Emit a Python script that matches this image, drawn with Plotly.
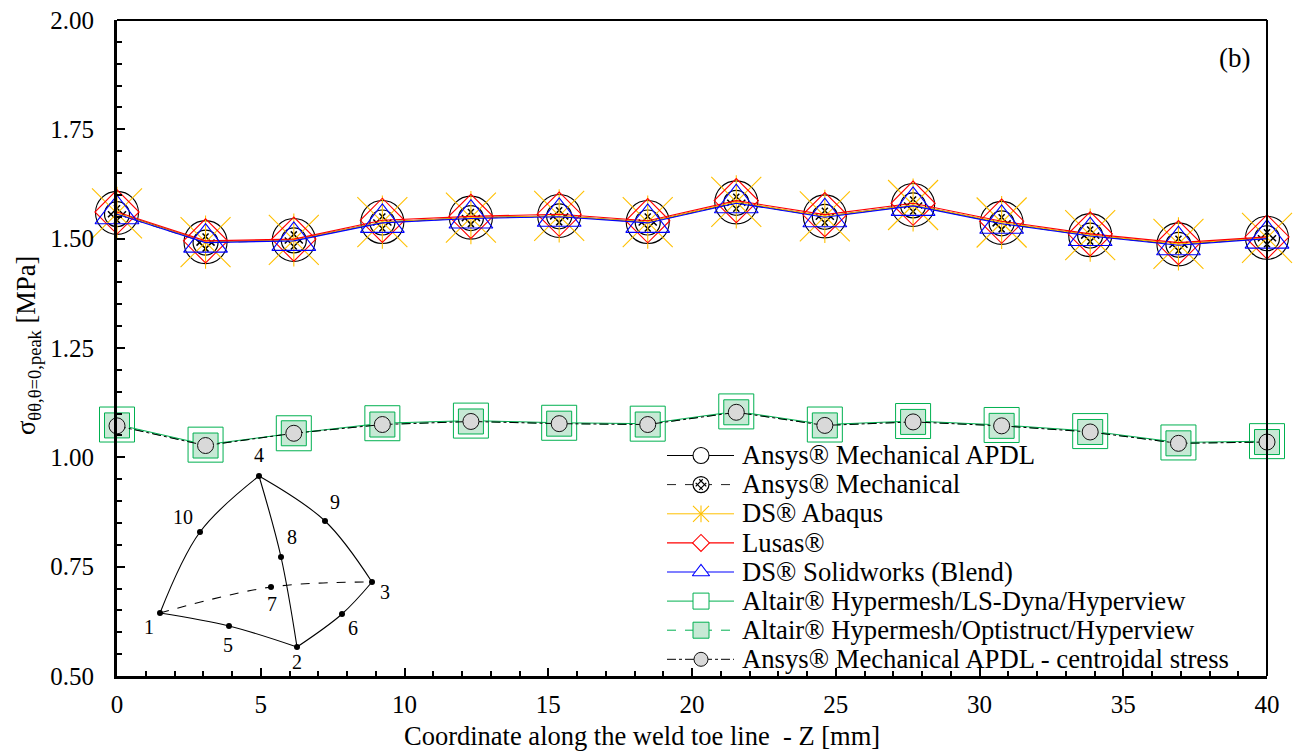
import plotly.graph_objects as go

# ---- Data ----
z = [0, 3.08, 6.15, 9.23, 12.31, 15.38, 18.46, 21.54, 24.62, 27.69, 30.77, 33.85, 36.92, 40]

apdl = [1.559, 1.492, 1.497, 1.538, 1.548, 1.552, 1.538, 1.583, 1.551, 1.577, 1.536, 1.508, 1.487, 1.502]
mechanical = [1.556, 1.491, 1.496, 1.537, 1.547, 1.551, 1.537, 1.582, 1.550, 1.576, 1.535, 1.507, 1.486, 1.501]
abaqus = [1.558, 1.492, 1.497, 1.538, 1.548, 1.552, 1.538, 1.584, 1.551, 1.577, 1.537, 1.508, 1.488, 1.502]
lusas = [1.561, 1.495, 1.499, 1.542, 1.551, 1.556, 1.541, 1.587, 1.555, 1.581, 1.540, 1.511, 1.491, 1.504]
solidworks = [1.556, 1.491, 1.495, 1.536, 1.546, 1.550, 1.536, 1.581, 1.549, 1.575, 1.534, 1.506, 1.485, 1.500]
lsdyna = [1.075, 1.029, 1.055, 1.078, 1.084, 1.079, 1.077, 1.105, 1.075, 1.083, 1.074, 1.060, 1.034, 1.037]
optistruct = [1.073, 1.027, 1.055, 1.075, 1.082, 1.077, 1.075, 1.103, 1.073, 1.081, 1.072, 1.058, 1.032, 1.035]
centroidal = [1.072, 1.027, 1.055, 1.075, 1.082, 1.077, 1.075, 1.103, 1.073, 1.081, 1.072, 1.058, 1.032, 1.035]

names = ["Ansys® Mechanical APDL", "Ansys® Mechanical", "DS® Abaqus", "Lusas®", "DS® Solidworks (Blend)",
         "Altair® Hypermesh/LS-Dyna/Hyperview", "Altair® Hypermesh/Optistruct/Hyperview",
         "Ansys® Mechanical APDL - centroidal stress"]

x_ticks = [0, 5, 10, 15, 20, 25, 30, 35, 40]
y_ticks = [0.5, 0.75, 1.0, 1.25, 1.5, 1.75, 2.0]
y_labels = ["0.50", "0.75", "1.00", "1.25", "1.50", "1.75", "2.00"]

# Inset tetrahedron sketch (in sketch units)
edge_1_5_2 = ([160, 229, 297], [613, 626, 647])
edge_2_6_3 = ([297, 342, 372], [647, 614, 582])
edge_3_9_4 = ([372, 325, 259], [582, 521, 476])
edge_4_10_1 = ([259, 200, 160], [476, 532, 613])
edge_4_8_2 = ([259, 281, 297], [476, 557, 647])
edge_1_7_3 = ([160, 271, 372], [613, 587, 582])
node_x = [160, 297, 372, 259, 229, 342, 271, 281, 325, 200]
node_y = [613, 647, 582, 476, 626, 614, 587, 557, 521, 532]
node_text = ["1", "2", "3", "4", "5", "6", "7", "8", "9", "10"]
label_x = [149, 297, 385, 259, 228, 353, 272, 292, 335, 183]
label_y = [629, 664, 594, 457, 647, 630, 606, 539, 504, 519]

# Key rows (sketch units on the overlay axes)
key_y = [455.5, 484.6, 513.8, 542.9, 572, 601.1, 630.2, 659.3]
key_text_y = [457.5, 486.6, 515.8, 544.9, 574, 603.1, 632.2, 661.3]
key_line_x = [667, 734]
key_marker_x = 701
key_text_x = 742

FONT = "Liberation Serif"
BLACK, YEL, RED, BLUE, GREEN = "#000000", "#FFC000", "#FF0000", "#0000FF", "#00B050"
PALE = "#C7E9D5"

fig = go.Figure()


def add(y, name, color, dash, width, symbol, size, lw, fill=None, mode="lines+markers", mcolor=None, angle=0):
    fig.add_trace(go.Scatter(
        x=z, y=y, name=name, mode=mode, showlegend=False, cliponaxis=False,
        line=dict(color=color, width=width, dash=dash),
        marker=dict(symbol=symbol, size=size, color=fill if fill else color, angle=angle,
                    line=dict(color=mcolor or color, width=lw)),
    ))


add(apdl, names[0], BLACK, "solid", 1, "circle-open", 43, 1.1)
add(mechanical, names[1], "#222222", "dash", 1, "circle", 25, 1.2, fill="#FFFFFF", mcolor=BLACK)
add(mechanical, "hatch", BLACK, "solid", 1, "hash-open", 17, 1.5, mode="markers", angle=45)
add(abaqus, names[2], YEL, "solid", 1, "x-thin-open", 50, 1.1)
add(abaqus, "abaqus arm", YEL, "solid", 1, "line-ns-open", 38, 1.1, mode="markers")
add(lusas, names[3], RED, "solid", 1.1, "diamond-open", 34, 1.1)
add(solidworks, names[4], BLUE, "solid", 1.1, "triangle-up-open", 38, 1.1)
add(lsdyna, names[5], GREEN, "solid", 1, "square-open", 35, 1)
add(optistruct, names[6], GREEN, "dash", 1, "square", 25, 1, fill=PALE)
add(centroidal, names[7], BLACK, "dashdot", 1, "circle", 16, 1, fill="#D9D9D9", mcolor="#111111")


def over(x, y, **kw):
    fig.add_trace(go.Scatter(x=x, y=y, xaxis="x2", yaxis="y2", showlegend=False, cliponaxis=False, **kw))


# Inset drawn on a hidden overlay axis pair
for edge, dash in [(edge_1_5_2, "solid"), (edge_2_6_3, "solid"), (edge_3_9_4, "solid"),
                   (edge_4_10_1, "solid"), (edge_4_8_2, "solid"), (edge_1_7_3, "dash")]:
    over(edge[0], edge[1], mode="lines", line=dict(color=BLACK, width=1.1, dash=dash, shape="spline", smoothing=1))
over(node_x, node_y, mode="markers", marker=dict(color=BLACK, size=6))
over(label_x, label_y, mode="text", text=node_text, textposition="middle center",
     textfont=dict(family=FONT, size=20, color=BLACK))

# Key
key_styles = [
    (BLACK, "solid", 1, [dict(symbol="circle", size=16, color="#FFFFFF", line=dict(color=BLACK, width=1.1))]),
    ("#222222", "dash", 1, [dict(symbol="circle", size=16, color="#FFFFFF", line=dict(color=BLACK, width=1.2)),
                            dict(symbol="hash-open", size=10, angle=45, color=BLACK, line=dict(color=BLACK, width=1.2))]),
    (YEL, "solid", 1, [dict(symbol="x-thin-open", size=16, color=YEL, line=dict(color=YEL, width=1.1)),
                       dict(symbol="line-ns-open", size=12, color=YEL, line=dict(color=YEL, width=1.1))]),
    (RED, "solid", 1.1, [dict(symbol="diamond", size=13, color="#FFFFFF", line=dict(color=RED, width=1.1))]),
    (BLUE, "solid", 1.1, [dict(symbol="triangle-up", size=15, color="#FFFFFF", line=dict(color=BLUE, width=1.1))]),
    (GREEN, "solid", 1, [dict(symbol="square", size=16, color="#FFFFFF", line=dict(color=GREEN, width=1))]),
    (GREEN, "dash", 1, [dict(symbol="square", size=16, color=PALE, line=dict(color=GREEN, width=1))]),
    (BLACK, "dashdot", 1, [dict(symbol="circle", size=14, color="#D9D9D9", line=dict(color="#111111", width=1))]),
]
for yk, (col, dash, w, mks) in zip(key_y, key_styles):
    over(key_line_x, [yk, yk], mode="lines", line=dict(color=col, width=w, dash=dash))
    for mk in mks:
        over([key_marker_x], [yk], mode="markers", marker=mk)
over([key_text_x] * len(names), key_text_y, mode="text", text=names, textposition="middle right",
     textfont=dict(family=FONT, size=26.7, color=BLACK))

axis_common = dict(showgrid=False, zeroline=False, showline=True, linecolor=BLACK, automargin=False,
                   ticks="inside", tickcolor=BLACK, tickfont=dict(family=FONT, size=25, color=BLACK))

fig.update_layout(
    width=1297, height=751,
    margin=dict(l=117, r=30, t=20, b=75, pad=0),
    paper_bgcolor="white", plot_bgcolor="white",
    font=dict(family=FONT, color=BLACK),
    showlegend=False,
    xaxis=dict(range=[0, 40], tickvals=x_ticks, ticklen=8, tickwidth=1.5, linewidth=3, ticklabelstandoff=4,
               minor=dict(dtick=1, tick0=0, ticks="inside", ticklen=5, tickwidth=1.5, tickcolor=BLACK),
               **axis_common),
    yaxis=dict(range=[0.5, 2.0], tickvals=y_ticks, ticktext=y_labels, ticklen=8, tickwidth=1.5, linewidth=3,
               ticklabelstandoff=15,
               minor=dict(dtick=0.05, tick0=0.5, ticks="inside", ticklen=5, tickwidth=1.5, tickcolor=BLACK),
               **axis_common),
    xaxis2=dict(range=[117, 1267], overlaying="x", visible=False, anchor="y2"),
    yaxis2=dict(range=[676, 20], overlaying="y", visible=False, anchor="x2"),
    shapes=[
        dict(type="line", xref="paper", yref="paper", x0=0, x1=1, y0=1, y1=1, line=dict(color=BLACK, width=2)),
        dict(type="line", xref="paper", yref="paper", x0=1, x1=1, y0=0, y1=1, line=dict(color=BLACK, width=2)),
    ],
    annotations=[
        dict(text="(b)", xref="paper", yref="paper", x=(1234 - 117) / 1150, y=(676 - 58) / 656,
             showarrow=False, xanchor="center", yanchor="middle",
             font=dict(family=FONT, size=27, color=BLACK)),
        dict(text="Coordinate along the weld toe line  - Z [mm]", xref="paper", yref="paper",
             x=(642 - 117) / 1150, y=(676 - 736) / 656, showarrow=False, xanchor="center", yanchor="middle",
             font=dict(family=FONT, size=26.5, color=BLACK)),
        dict(text="σ<sub>θθ,θ=0,peak</sub> [MPa]", xref="paper", yref="paper", textangle=-90,
             x=(28 - 117) / 1150, y=(676 - 346) / 656, showarrow=False, xanchor="center", yanchor="middle",
             font=dict(family=FONT, size=26.5, color=BLACK)),
    ],
)

fig.write_html("out.html", post_script="document.body.style.margin='0';", config={"displayModeBar": False})
